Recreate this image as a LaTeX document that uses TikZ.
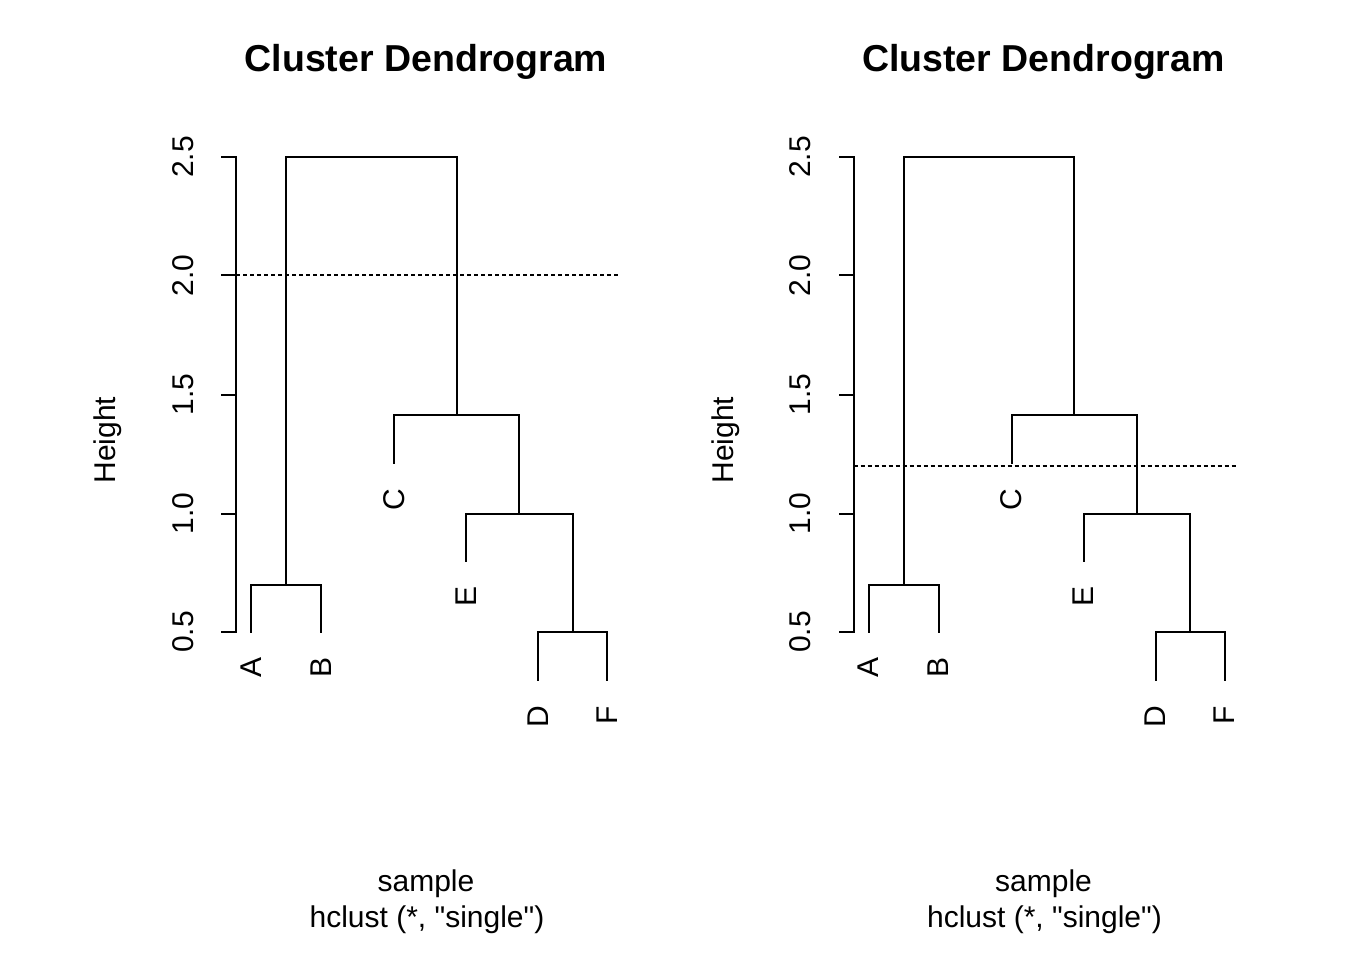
\documentclass[tikz,border=0pt]{standalone}
\usepackage{fontspec}
\setmainfont{Liberation Sans}
\newcommand\straightq{\XeTeXglyph\XeTeXcharglyph"22\relax}
\newcommand\dendpanel[3]{%
\begin{scope}[xshift=#2]
  % title and axis labels
  \node[ttl] (#1title) at (426,62) {Cluster Dendrogram};
  \node[lbl] (#1xlab) at (426,884) {sample};
  \node[lbl] (#1sub) at (427,920) {hclust (*, \straightq single\straightq)};
  \node[lbl, rotate=90] (#1ylab) at (108,440) {Height};
  % y axis
  \coordinate (#1ax0) at (236,632);
  \coordinate (#1ax1) at (236,157);
  \draw[dline] (#1ax0) -- (#1ax1);
  \foreach \v/\yy in {0.5/632,1.0/513.75,1.5/394.5,2.0/275.25,2.5/157}{
    \draw[dline] (236,\yy) -- (222,\yy);
    \node[lbl, rotate=90] at (183,\yy) {\v};
  }
  % leaves (end points)
  \coordinate (#1A) at (251,632);
  \coordinate (#1B) at (321,632);
  \coordinate (#1C) at (394,462.5);
  \coordinate (#1E) at (466,560.75);
  \coordinate (#1D) at (538,679.5);
  \coordinate (#1F) at (607,679.5);
  % merges
  \coordinate (#1AB) at (286,584.5);
  \coordinate (#1DF) at (572.5,632);
  \coordinate (#1EDF) at (519.25,513.75);
  \coordinate (#1CEDF) at (456.6,414.9);
  \coordinate (#1top) at (371,157);
  \draw[dline] (#1A) |- (#1AB) -| (#1B);
  \draw[dline] (#1D) |- (#1DF) -| (#1F);
  \draw[dline] (#1E) |- (#1EDF) -| (#1DF);
  \draw[dline] (#1C) |- (#1CEDF) -| (#1EDF);
  \draw[dline] (#1AB) |- (#1top) -| (#1CEDF);
  % leaf labels
  \node[leaf] (#1lA) at ([yshift=-25pt]#1A) {A};
  \node[leaf] (#1lB) at ([yshift=-25pt]#1B) {B};
  \node[leaf] (#1lC) at ([yshift=-26pt]#1C) {C};
  \node[leaf] (#1lE) at ([yshift=-26pt]#1E) {E};
  \node[leaf] (#1lD) at ([yshift=-26pt]#1D) {D};
  \node[leaf] (#1lF) at ([yshift=-26pt]#1F) {F};
  % cut line
  \coordinate (#1cut0) at (236,#3);
  \coordinate (#1cut1) at (620,#3);
  \draw[cutline] (#1cut0) -- (#1cut1);
\end{scope}}
\begin{document}
\begin{tikzpicture}[x=1pt,y=-1pt,
  dline/.style={line width=2pt, line cap=rect},
  lbl/.style={font=\fontsize{30}{36}\selectfont, inner sep=0pt},
  leaf/.style={lbl, rotate=90, anchor=east},
  cutline/.style={line width=1.6pt, dash pattern=on 4pt off 3pt},
  ttl/.style={font=\fontsize{37.5}{44}\selectfont\bfseries, inner sep=0pt}]
\useasboundingbox (0,0) rectangle (1368,974);
\fill[white] (0,0) rectangle (1368,974);
\dendpanel{L}{0}{275.25}
\dendpanel{R}{617.5}{465.75}
\end{tikzpicture}
\end{document}
